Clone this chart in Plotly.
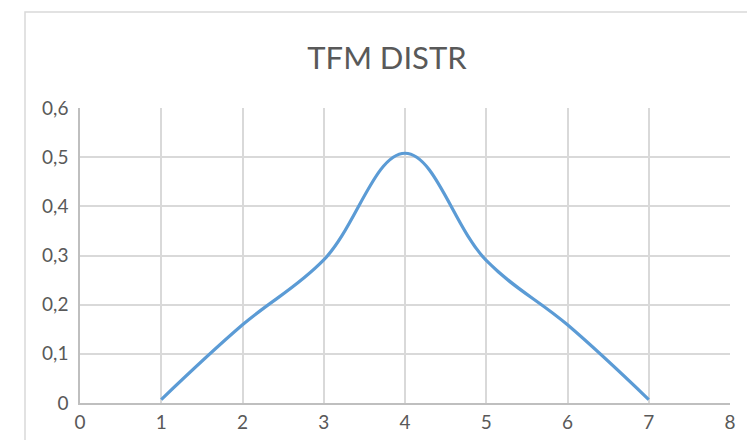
import plotly.graph_objects as go

x_vals = [1, 2, 3, 4, 5, 6, 7]
y_vals = [0.007, 0.159, 0.291, 0.508, 0.290, 0.159, 0.007]
x_ticks = [0, 1, 2, 3, 4, 5, 6, 7, 8]
y_ticks = [0, 0.1, 0.2, 0.3, 0.4, 0.5, 0.6]
y_tick_text = ["0", "0,1", "0,2", "0,3", "0,4", "0,5", "0,6"]

FONT = "Lato"
TXT = "#595959"

fig = go.Figure()
fig.add_trace(go.Scatter(
    x=x_vals, y=y_vals, mode="lines",
    line=dict(color="#5B9BD5", width=3.2, shape="spline", smoothing=1.1),
    hoverinfo="skip", showlegend=False,
))

fig.update_layout(
    width=747, height=440,
    margin=dict(l=80, r=17, t=108, b=37, autoexpand=False),
    paper_bgcolor="white", plot_bgcolor="white",
    title=dict(text="TFM DISTR", x=387 / 747, xref="container", xanchor="center",
               y=1 - 58 / 440, yref="container", yanchor="middle",
               font=dict(family=FONT, size=31, color=TXT)),
    xaxis=dict(range=[0, 8], tickvals=x_ticks, showgrid=True, gridcolor="#D9D9D9",
               gridwidth=1.5, zeroline=False, showline=True, linecolor="#BFBFBF",
               linewidth=1.5, ticks="outside", ticklen=1, tickcolor="rgba(0,0,0,0)",
               tickfont=dict(family=FONT, size=19, color=TXT), fixedrange=True,
               automargin=False),
    yaxis=dict(range=[0, 0.6], tickvals=y_ticks, ticktext=y_tick_text, showgrid=True,
               gridcolor="#D9D9D9", gridwidth=1.5, zeroline=False, showline=True,
               linecolor="#BFBFBF", linewidth=1.5, ticks="outside", ticklen=6,
               tickcolor="rgba(0,0,0,0)",
               tickfont=dict(family=FONT, size=19, color=TXT), fixedrange=True,
               automargin=False),
    shapes=[dict(type="rect", xref="paper", yref="paper",
                 x0=(25 - 80) / 650, x1=(760 - 80) / 650,
                 y0=(403 - 460) / 295, y1=(403 - 12) / 295,
                 line=dict(color="#D9D9D9", width=1.5), fillcolor="rgba(0,0,0,0)",
                 layer="below")],
)

fig.write_html("out.html", config={"displayModeBar": False},
               post_script="document.body.style.margin='0';document.body.style.padding='0';")
